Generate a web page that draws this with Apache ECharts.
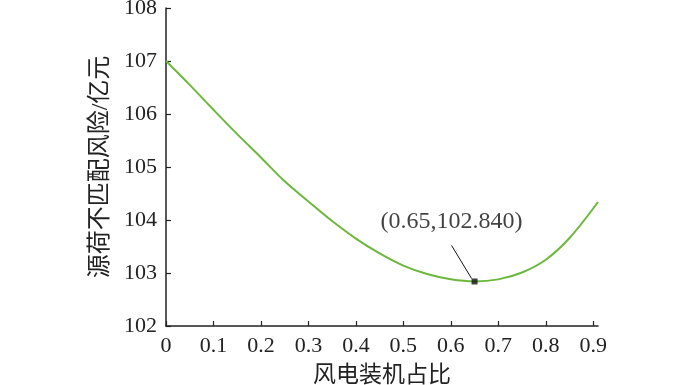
<!DOCTYPE html>
<html>
<head>
<meta charset="utf-8">
<script src="https://cdn.jsdelivr.net/npm/echarts@6/dist/echarts.min.js"></script>
<style>
  html, body { margin: 0; padding: 0; background: #fff; }
  #chart { width: 700px; height: 385px; }
</style>
</head>
<body>
<div id="chart"></div>
<script>
// 风电装机占比 (x) 与源荷不匹配风险 (y)
const windShare = [0, 0.05, 0.1, 0.15, 0.2, 0.25, 0.3, 0.35, 0.4, 0.45, 0.5, 0.55, 0.6, 0.65, 0.7, 0.75, 0.8, 0.85, 0.91]
const riskValues = [107.0, 106.55, 106.08, 105.62, 105.18, 104.73, 104.35, 103.98, 103.65, 103.37, 103.14, 102.98, 102.88, 102.84, 102.88, 103.01, 103.25, 103.66, 104.34]
const xTicks = [0, 0.1, 0.2, 0.3, 0.4, 0.5, 0.6, 0.7, 0.8, 0.9]
const optimumPoint = [0.65, 102.84]
const optimumLabel = '(0.65,102.840)'

const font = '"Liberation Serif", "Noto Sans CJK SC", serif'

const chart = echarts.init(document.getElementById('chart'))
const option = {
  animation: false,
  grid: {
    left: 166,
    right: 102,
    top: 8,
    bottom: 59,
    outerBoundsMode: 'none'
  },
  xAxis: {
    type: 'value',
    min: 0,
    max: 0.91,
    name: '风电装机占比',
    nameLocation: 'middle',
    nameGap: 38,
    nameTextStyle: { fontFamily: font, fontSize: 23, color: '#222' },
    axisLine: { show: true, lineStyle: { color: '#222', width: 1.5 } },
    axisTick: { show: true, inside: true, length: 5, customValues: xTicks, lineStyle: { color: '#222', width: 1.2 } },
    axisLabel: {
      customValues: xTicks,
      margin: 9,
      fontFamily: font,
      fontSize: 22,
      color: '#222'
    },
    splitLine: { show: false }
  },
  yAxis: {
    type: 'value',
    min: 102,
    max: 108,
    interval: 1,
    name: '源荷不匹配风险/亿元',
    nameLocation: 'middle',
    nameGap: 51,
    nameRotate: 90,
    nameTextStyle: { fontFamily: font, fontSize: 24, color: '#222' },
    axisLine: { show: true, lineStyle: { color: '#222', width: 1.5 } },
    axisTick: { show: true, inside: true, length: 5, lineStyle: { color: '#222', width: 1.2 } },
    axisLabel: { margin: 9, fontFamily: font, fontSize: 22, color: '#222' },
    splitLine: { show: false }
  },
  series: [
    {
      type: 'line',
      data: windShare.map((x, i) => [x, riskValues[i]]),
      smooth: 0.35,
      symbol: 'none',
      lineStyle: { color: '#6cb83c', width: 2 },
      z: 2
    },
    {
      type: 'scatter',
      data: [optimumPoint],
      symbol: 'rect',
      symbolSize: 6,
      itemStyle: { color: '#111' },
      label: {
        show: true,
        position: 'top',
        offset: [-23, -40],
        formatter: optimumLabel,
        fontFamily: font,
        fontSize: 24,
        color: '#111'
      },
      labelLine: { show: true, lineStyle: { color: '#111', width: 1 } },
      z: 3
    }
  ]
}
chart.setOption(option)
</script>
</body>
</html>
